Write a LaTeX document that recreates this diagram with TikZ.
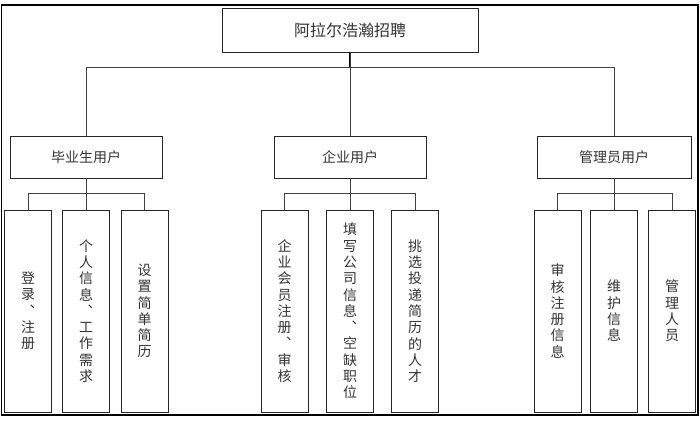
\documentclass[tikz,border=0pt]{standalone}
\usepackage{fontspec}
\setmainfont{Noto Sans CJK SC}
\newcommand{\vcomma}{︑\hspace*{5pt}}
\begin{document}
\begin{tikzpicture}[x=1pt,y=-1pt,
  txt/.style={text=black!80},
  box/.style={draw=black!85, line width=0.9pt, inner sep=0pt, txt},
  topbox/.style={box, minimum width=256pt, minimum height=44pt, font=\fontsize{16}{18}\selectfont},
  midbox/.style={box, minimum width=152pt, minimum height=42pt, font=\fontsize{14}{16}\selectfont},
  leafbox/.style={box, minimum width=47pt, minimum height=202pt, align=center, font=\fontsize{14}{16.3}\selectfont},
  link/.style={draw=black!75, line width=0.9pt}
]
\useasboundingbox (0,0) rectangle (700,427);
\draw[line width=1.1pt] (1.5,5) rectangle (698,415);

\node[topbox] (top) at (350,30) {阿拉尔浩瀚招聘};

\node[midbox] (grad) at (86,157) {毕业生用户};
\node[midbox] (ent) at (350,157) {企业用户};
\node[midbox, minimum width=154pt] (mgr) at (614,157) {管理员用户};

\node[leafbox] (b1) at (28,311) {登\\录\\\vcomma\\注\\册};
\node[leafbox] (b2) at (86,311) {个\\人\\信\\息\\\vcomma\\工\\作\\需\\求};
\node[leafbox] (b3) at (144.5,311) {设\\置\\简\\单\\简\\历};

\node[leafbox] (c1) at (284.5,311) {企\\业\\会\\员\\注\\册\\\vcomma\\审\\核};
\node[leafbox] (c2) at (350,311) {填\\写\\公\\司\\信\\息\\\vcomma\\空\\缺\\职\\位};
\node[leafbox] (c3) at (415,311) {挑\\选\\投\\递\\简\\历\\的\\人\\才};

\node[leafbox] (d1) at (557.5,311) {审\\核\\注\\册\\信\\息};
\node[leafbox] (d2) at (614,311) {维\\护\\信\\息};
\node[leafbox] (d3) at (672,311) {管\\理\\人\\员};

% top level links
\draw[link, line width=1.4pt, draw=black] (top.south) -- ++(0,15);
\draw[link] (top.south) -- (ent.north);
\draw[link] (top.south) ++(0,15) -| (grad.north);
\draw[link] (top.south) ++(0,15) -| (mgr.north);

% second level links
\draw[link] (grad.south) -- (b2.north);
\draw[link] (b1.north) -- ++(0,-16) -| (b3.north);
\draw[link] (ent.south) -- (c2.north);
\draw[link] (c1.north) -- ++(0,-16) -| (c3.north);
\draw[link] (mgr.south) -- (d2.north);
\draw[link] (d1.north) -- ++(0,-16) -| (d3.north);
\end{tikzpicture}
\end{document}
